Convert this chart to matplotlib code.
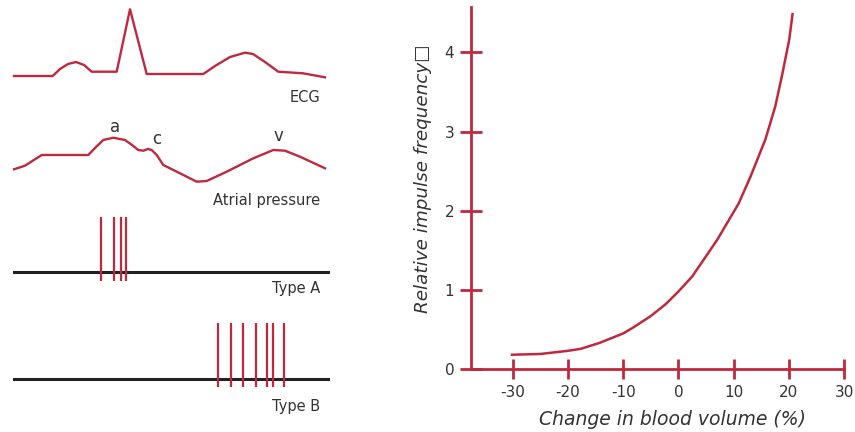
import matplotlib.pyplot as plt

plt.rcParams["axes.unicode_minus"] = False

red = "#C0283E"
txt = "#333333"

# ECG and atrial pressure traces (left panel, drawing units with y downwards)
ecg_x = [14, 52.7, 60, 68, 76, 84, 91.7, 116.7, 130, 146.7, 203.3, 215, 230, 245, 253, 265, 278.3, 303, 325]
ecg_y = [76, 76, 69, 64, 62, 65, 71.7, 71.7, 9.3, 74, 74, 66, 57, 52.7, 54, 62, 71.7, 73.3, 77.3]

atr_x = [14, 25, 41.7, 88.3, 96, 103.3, 113.3, 125, 132, 138.3, 143.3, 148, 151.7, 156.7, 163.3, 180,
         196.7, 206.7, 226.7, 253.3, 273.3, 285, 300, 325]
atr_y = [169.3, 165.7, 155, 155, 147, 140, 137.7, 140, 145, 150, 150.7, 149, 150, 155, 165, 173.3,
         181.7, 181, 171.7, 158.3, 150, 150.7, 156.7, 168.3]

type_a_spikes = [101, 114, 120.7, 126]
type_b_spikes = [217.7, 231, 242.7, 256, 266.7, 272.7, 284.3]

# right panel curve
volume = [-30.4, -25, -20, -17.7, -14.3, -10, -8.3, -5, -2.3, 0, 2.5, 7.0, 10.9, 13.05, 15.75, 17.55,
          18.74, 20.07, 20.7]
freq = [0.18, 0.19, 0.23, 0.255, 0.33, 0.45, 0.52, 0.67, 0.82, 0.98, 1.17, 1.63, 2.09, 2.43, 2.90, 3.32,
        3.70, 4.16, 4.50]
x_ticks = [-30, -20, -10, 0, 10, 20, 30]
y_ticks = [0, 1, 2, 3, 4]

fig = plt.figure(figsize=(8.55, 4.32), dpi=100)

# left panel
axl = fig.add_axes([0, 0, 340 / 855, 1])
axl.set_xlim(0, 340)
axl.set_ylim(432, 0)
axl.axis("off")

axl.plot(ecg_x, ecg_y, color=red, lw=1.7, solid_joinstyle="round")
axl.text(320, 97, "ECG", ha="right", va="center", fontsize=10.5, color=txt)

axl.plot(atr_x, atr_y, color=red, lw=1.7, solid_joinstyle="round")
axl.text(115, 127, "a", ha="center", va="center", fontsize=12, color=txt)
axl.text(156.7, 139, "c", ha="center", va="center", fontsize=12, color=txt)
axl.text(278.3, 136, "v", ha="center", va="center", fontsize=12, color=txt)
axl.text(320, 201, "Atrial pressure", ha="right", va="center", fontsize=10.5, color=txt)

axl.plot([14, 328], [271.7, 271.7], color="#222222", lw=2.2)
axl.vlines(type_a_spikes, 217.3, 281, color=red, lw=1.6)
axl.text(320, 289, "Type A", ha="right", va="center", fontsize=10.5, color=txt)

axl.plot([14, 328], [379, 379], color="#222222", lw=2.2)
axl.vlines(type_b_spikes, 323.3, 387.3, color=red, lw=1.6)
axl.text(320, 406, "Type B", ha="right", va="center", fontsize=10.5, color=txt)

# right panel
ax = fig.add_axes([471 / 855, 1 - 369 / 432, (844 - 471) / 855, (369 - 7.3) / 432])
ax.plot(volume, freq, color=red, lw=1.8, solid_capstyle="butt", solid_joinstyle="round")
ax.set_xlim(-37.6, 30)
ax.set_ylim(0, 4.57)
ax.set_xticks(x_ticks)
ax.set_yticks(y_ticks)
for s in ["top", "right"]:
    ax.spines[s].set_visible(False)
for s in ["left", "bottom"]:
    ax.spines[s].set_color(red)
    ax.spines[s].set_linewidth(2)
ax.tick_params(axis="x", direction="inout", length=15, width=2, color=red, labelcolor=txt,
               labelsize=11, pad=4)
ax.tick_params(axis="y", direction="inout", length=16, width=2, color=red, labelcolor=txt,
               labelsize=11, pad=4)
ax.set_xlabel("Change in blood volume (%)", fontsize=13.5, style="italic", color=txt)
ax.set_ylabel("Relative impulse frequency\u25a1", fontsize=13.2, style="italic", color=txt)
ax.xaxis.set_label_coords(0.541, -0.113)
ax.yaxis.set_label_coords(-0.105, 0.525)
ax.patch.set_alpha(0)

fig.savefig("out.png", dpi=100)
